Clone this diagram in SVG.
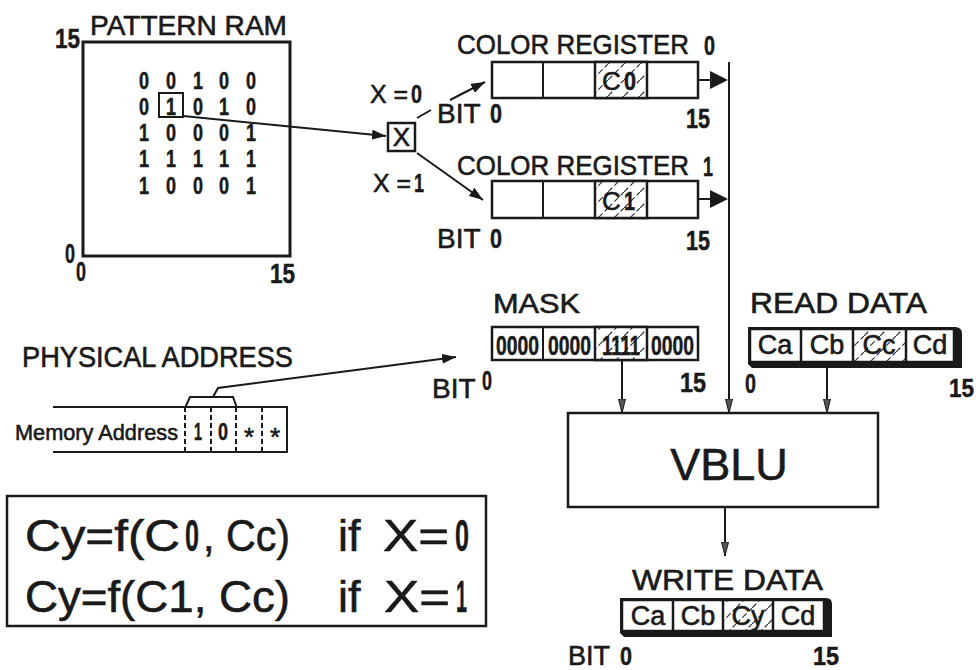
<svg xmlns="http://www.w3.org/2000/svg" width="978" height="670" viewBox="0 0 978 670">
<defs>
<style>
.t{font-family:"Liberation Sans",Arial,sans-serif;fill:#1a1a1a;stroke:#1a1a1a;stroke-width:0.6}
.n{font-family:"Liberation Sans",Arial,sans-serif;font-weight:bold;fill:#1a1a1a;stroke:#1a1a1a;stroke-width:0.5}
.box{fill:#fff;stroke:#1a1a1a;stroke-width:2.5}
.ln{fill:none;stroke:#1a1a1a;stroke-width:2}
.dash{stroke:#1a1a1a;stroke-width:2;stroke-dasharray:5 3}
.hat{fill:url(#hatch);stroke:#1a1a1a;stroke-width:2.5}
</style>
<pattern id="hatch" patternUnits="userSpaceOnUse" width="16" height="16">
<rect width="16" height="16" fill="#fff"/>
<path d="M0,16 L16,0" stroke="#333" stroke-width="1.2" stroke-dasharray="6 3"/>
</pattern>
<marker id="ah" markerUnits="userSpaceOnUse" markerWidth="16" markerHeight="10" refX="14" refY="5" orient="auto">
<path d="M0,0 L14,5 L0,10 Z" fill="#1a1a1a"/>
</marker>
<marker id="ahn" markerUnits="userSpaceOnUse" markerWidth="16" markerHeight="8" refX="14" refY="4" orient="auto">
<path d="M0,0.5 L14,4 L0,7.5 Z" fill="#555" stroke="#1a1a1a" stroke-width="1"/>
</marker>
</defs>
<rect width="978" height="670" fill="#fff"/>

<g id="pattern-ram">
<text class="t" x="90" y="35" font-size="28" textLength="197" lengthAdjust="spacingAndGlyphs">PATTERN RAM</text>
<text class="n" x="55" y="48" font-size="27" textLength="25" lengthAdjust="spacingAndGlyphs">15</text>
<rect x="83" y="42" width="207" height="214" fill="none" stroke="#1a1a1a" stroke-width="3"/>
<text class="n" x="65" y="263" font-size="27" textLength="10" lengthAdjust="spacingAndGlyphs">0</text>
<text class="n" x="76" y="281" font-size="27" textLength="10" lengthAdjust="spacingAndGlyphs">0</text>
<text class="n" x="270" y="283" font-size="27" textLength="25" lengthAdjust="spacingAndGlyphs">15</text>
<g class="n" font-size="23">
<text x="139" y="89" textLength="10" lengthAdjust="spacingAndGlyphs">0</text>
<text x="166" y="89" textLength="10" lengthAdjust="spacingAndGlyphs">0</text>
<text x="193" y="89" textLength="10" lengthAdjust="spacingAndGlyphs">1</text>
<text x="219" y="89" textLength="10" lengthAdjust="spacingAndGlyphs">0</text>
<text x="246" y="89" textLength="10" lengthAdjust="spacingAndGlyphs">0</text>
<text x="139" y="115" textLength="10" lengthAdjust="spacingAndGlyphs">0</text>
<text x="166" y="115" textLength="10" lengthAdjust="spacingAndGlyphs">1</text>
<text x="193" y="115" textLength="10" lengthAdjust="spacingAndGlyphs">0</text>
<text x="219" y="115" textLength="10" lengthAdjust="spacingAndGlyphs">1</text>
<text x="246" y="115" textLength="10" lengthAdjust="spacingAndGlyphs">0</text>
<text x="139" y="141" textLength="10" lengthAdjust="spacingAndGlyphs">1</text>
<text x="166" y="141" textLength="10" lengthAdjust="spacingAndGlyphs">0</text>
<text x="193" y="141" textLength="10" lengthAdjust="spacingAndGlyphs">0</text>
<text x="219" y="141" textLength="10" lengthAdjust="spacingAndGlyphs">0</text>
<text x="246" y="141" textLength="10" lengthAdjust="spacingAndGlyphs">1</text>
<text x="139" y="167" textLength="10" lengthAdjust="spacingAndGlyphs">1</text>
<text x="166" y="167" textLength="10" lengthAdjust="spacingAndGlyphs">1</text>
<text x="193" y="167" textLength="10" lengthAdjust="spacingAndGlyphs">1</text>
<text x="219" y="167" textLength="10" lengthAdjust="spacingAndGlyphs">1</text>
<text x="246" y="167" textLength="10" lengthAdjust="spacingAndGlyphs">1</text>
<text x="139" y="194" textLength="10" lengthAdjust="spacingAndGlyphs">1</text>
<text x="166" y="194" textLength="10" lengthAdjust="spacingAndGlyphs">0</text>
<text x="193" y="194" textLength="10" lengthAdjust="spacingAndGlyphs">0</text>
<text x="219" y="194" textLength="10" lengthAdjust="spacingAndGlyphs">0</text>
<text x="246" y="194" textLength="10" lengthAdjust="spacingAndGlyphs">1</text>
</g>
<rect x="159" y="93" width="24" height="24" fill="none" stroke="#1a1a1a" stroke-width="2"/>
</g>

<g id="x-select">
<rect x="388" y="123" width="27" height="28" fill="#fff" stroke="#1a1a1a" stroke-width="2.5"/>
<text class="t" x="401.5" y="146" font-size="26" text-anchor="middle">X</text>
<text class="t" x="370" y="103" font-size="26" textLength="38" lengthAdjust="spacingAndGlyphs">X =</text>
<text class="n" x="411" y="103" font-size="26" textLength="11" lengthAdjust="spacingAndGlyphs">0</text>
<text class="t" x="373" y="192" font-size="26" textLength="38" lengthAdjust="spacingAndGlyphs">X =</text>
<text class="n" x="414" y="192" font-size="26" textLength="10" lengthAdjust="spacingAndGlyphs">1</text>
</g>

<g id="color-register-0">
<text class="t" x="457" y="54" font-size="28" textLength="232" lengthAdjust="spacingAndGlyphs">COLOR REGISTER</text>
<text class="n" x="704" y="55" font-size="27" textLength="11" lengthAdjust="spacingAndGlyphs">0</text>
<rect class="box" x="492" y="62" width="206" height="36"/>
<rect class="hat" x="595" y="62" width="52" height="36"/>
<line class="ln" x1="543" y1="62" x2="543" y2="98" stroke-width="2.5"/>
<text class="t" x="602" y="90" font-size="26">C</text>
<text class="n" x="624" y="90" font-size="25" textLength="12" lengthAdjust="spacingAndGlyphs">0</text>
<text class="t" x="437" y="123" font-size="28">BIT</text>
<text class="n" x="490" y="123" font-size="27" textLength="12" lengthAdjust="spacingAndGlyphs">0</text>
<text class="n" x="686" y="128" font-size="27" textLength="24" lengthAdjust="spacingAndGlyphs">15</text>
</g>

<g id="color-register-1">
<text class="t" x="457" y="175" font-size="28" textLength="232" lengthAdjust="spacingAndGlyphs">COLOR REGISTER</text>
<text class="n" x="703" y="176" font-size="27" textLength="10" lengthAdjust="spacingAndGlyphs">1</text>
<rect class="box" x="492" y="181" width="206" height="37"/>
<rect class="hat" x="595" y="181" width="52" height="37"/>
<line class="ln" x1="543" y1="181" x2="543" y2="218" stroke-width="2.5"/>
<text class="t" x="602" y="210" font-size="26">C</text>
<text class="n" x="624" y="210" font-size="25" textLength="11" lengthAdjust="spacingAndGlyphs">1</text>
<text class="t" x="437" y="248" font-size="28">BIT</text>
<text class="n" x="490" y="248" font-size="27" textLength="12" lengthAdjust="spacingAndGlyphs">0</text>
<text class="n" x="686" y="250" font-size="27" textLength="24" lengthAdjust="spacingAndGlyphs">15</text>
</g>

<g id="mask">
<text class="t" x="493" y="313" font-size="28" textLength="87" lengthAdjust="spacingAndGlyphs">MASK</text>
<rect class="box" x="492" y="327" width="206" height="33"/>
<rect class="hat" x="595" y="327" width="52" height="33"/>
<line class="ln" x1="543" y1="327" x2="543" y2="360" stroke-width="2.5"/>
<g class="n" font-size="27">
<text x="496" y="355" textLength="43" lengthAdjust="spacingAndGlyphs">0000</text>
<text x="548" y="355" textLength="43" lengthAdjust="spacingAndGlyphs">0000</text>
<text x="602" y="355" textLength="38" lengthAdjust="spacingAndGlyphs">1111</text>
<text x="651" y="355" textLength="43" lengthAdjust="spacingAndGlyphs">0000</text>
</g>
<text class="t" x="432" y="398" font-size="28">BIT</text>
<text class="n" x="482" y="390" font-size="27" textLength="10" lengthAdjust="spacingAndGlyphs">0</text>
<text class="n" x="680" y="392" font-size="27" textLength="26" lengthAdjust="spacingAndGlyphs">15</text>
</g>

<g id="read-data">
<text class="t" x="750" y="313" font-size="29" textLength="177" lengthAdjust="spacingAndGlyphs">READ DATA</text>
<path d="M748,327 H955 Q962,327 962,334 V368 H752 L748,364 Z" fill="#1a1a1a"/>
<rect x="750.5" y="329.5" width="50" height="32" fill="#fff" stroke="#1a1a1a" stroke-width="1.5"/>
<rect x="801.5" y="329.5" width="51" height="32" fill="#fff" stroke="#1a1a1a" stroke-width="1.5"/>
<rect x="853.5" y="329.5" width="52" height="32" fill="url(#hatch)" stroke="#1a1a1a" stroke-width="1.5"/>
<rect x="906.5" y="329.5" width="47" height="32" fill="#fff" stroke="#1a1a1a" stroke-width="1.5"/>
<g class="t" font-size="27" text-anchor="middle">
<text x="775" y="354">Ca</text>
<text x="827" y="354">Cb</text>
<text x="879" y="354">Cc</text>
<text x="930" y="354">Cd</text>
</g>
<text class="n" x="745" y="393" font-size="27" textLength="11" lengthAdjust="spacingAndGlyphs">0</text>
<text class="n" x="949" y="397" font-size="26" textLength="25" lengthAdjust="spacingAndGlyphs">15</text>
</g>

<g id="physical-address">
<text class="t" x="22" y="367" font-size="29" textLength="271" lengthAdjust="spacingAndGlyphs">PHYSICAL ADDRESS</text>
<path class="ln" d="M53,407 H287 V452 H53" stroke-width="2.5"/>
<line class="dash" x1="185" y1="407" x2="185" y2="452"/>
<line class="dash" x1="211" y1="407" x2="211" y2="452"/>
<line class="dash" x1="236" y1="407" x2="236" y2="452"/>
<line class="dash" x1="262" y1="407" x2="262" y2="452"/>
<text class="t" x="15" y="440" font-size="22" stroke-width="0.4" textLength="163" lengthAdjust="spacingAndGlyphs">Memory Address</text>
<text class="n" x="194" y="440" font-size="24" textLength="8" lengthAdjust="spacingAndGlyphs">1</text>
<text class="n" x="218" y="440" font-size="24" textLength="10" lengthAdjust="spacingAndGlyphs">0</text>
<g class="t" font-size="26" text-anchor="middle">
<text x="249" y="446">*</text>
<text x="275" y="446">*</text>
</g>
<path class="ln" d="M185,408 L190,397 H233 L237,408"/>
</g>

<g id="vblu">
<rect class="box" x="568" y="413" width="310" height="94"/>
<text class="t" x="729" y="480" font-size="45" stroke-width="1.2" text-anchor="middle">VBLU</text>
</g>

<g id="write-data">
<text class="t" x="632" y="590" font-size="29" textLength="191" lengthAdjust="spacingAndGlyphs">WRITE DATA</text>
<path d="M620,598 H826 Q832,598 832,604 V637 H624 L620,633 Z" fill="#1a1a1a"/>
<rect x="622.5" y="600.5" width="50" height="30" fill="#fff" stroke="#1a1a1a" stroke-width="1.5"/>
<rect x="673.5" y="600.5" width="49" height="30" fill="#fff" stroke="#1a1a1a" stroke-width="1.5"/>
<rect x="723.5" y="600.5" width="49" height="30" fill="url(#hatch)" stroke="#1a1a1a" stroke-width="1.5"/>
<rect x="773.5" y="600.5" width="50" height="30" fill="#fff" stroke="#1a1a1a" stroke-width="1.5"/>
<g class="t" font-size="27" text-anchor="middle">
<text x="648" y="625">Ca</text>
<text x="698" y="625">Cb</text>
<text x="748" y="625">Cy</text>
<text x="798" y="625">Cd</text>
</g>
<text class="t" x="568" y="665" font-size="27">BIT</text>
<text class="n" x="620" y="665" font-size="26" textLength="12" lengthAdjust="spacingAndGlyphs">0</text>
<text class="n" x="813" y="665" font-size="26" textLength="26" lengthAdjust="spacingAndGlyphs">15</text>
</g>

<g id="formula">
<rect x="7" y="496" width="479" height="130" fill="none" stroke="#1a1a1a" stroke-width="2.5"/>
<g class="t" font-size="45" stroke-width="0.9">
<text x="25" y="551" textLength="155" lengthAdjust="spacingAndGlyphs">Cy=f(C</text>
<text x="203" y="551" textLength="87" lengthAdjust="spacingAndGlyphs">, Cc)</text>
<text x="338" y="551">if</text>
<text x="383" y="551" textLength="66" lengthAdjust="spacingAndGlyphs">X=</text>
<text x="25" y="612" textLength="265" lengthAdjust="spacingAndGlyphs">Cy=f(C1, Cc)</text>
<text x="338" y="612">if</text>
<text x="384" y="612" textLength="66" lengthAdjust="spacingAndGlyphs">X=</text>
</g>
<text class="n" x="185" y="551" font-size="44" stroke-width="1.8" textLength="14" lengthAdjust="spacingAndGlyphs">0</text>
<text class="n" x="455" y="551" font-size="44" stroke-width="1.8" textLength="14" lengthAdjust="spacingAndGlyphs">0</text>
<text class="n" x="456" y="612" font-size="44" stroke-width="1.5" textLength="11" lengthAdjust="spacingAndGlyphs">1</text>
</g>

<g id="connectors">
<polyline class="ln" points="183,116 386,136" marker-end="url(#ah)"/>
<line class="ln" x1="417" y1="118" x2="431" y2="110"/>
<line class="ln" x1="450" y1="100" x2="485" y2="82" marker-end="url(#ah)"/>
<line class="ln" x1="417" y1="153" x2="483" y2="200" marker-end="url(#ah)"/>
<line class="ln" x1="698" y1="80" x2="712" y2="80"/>
<path d="M710,71 L728,80 L710,89 Z" fill="#1a1a1a"/>
<line class="ln" x1="698" y1="199" x2="712" y2="199"/>
<path d="M710,190 L728,199 L710,208 Z" fill="#1a1a1a"/>
<line class="ln" x1="729" y1="62" x2="729" y2="413" stroke-width="2.5" marker-end="url(#ahn)"/>
<line class="ln" x1="622" y1="360" x2="622" y2="413" marker-end="url(#ahn)"/>
<line class="ln" x1="827" y1="368" x2="827" y2="413" marker-end="url(#ahn)"/>
<line class="ln" x1="725" y1="507" x2="725" y2="556" marker-end="url(#ahn)"/>
<polyline class="ln" points="213,397 218,388 456,357" marker-end="url(#ah)"/>
</g>
</svg>
